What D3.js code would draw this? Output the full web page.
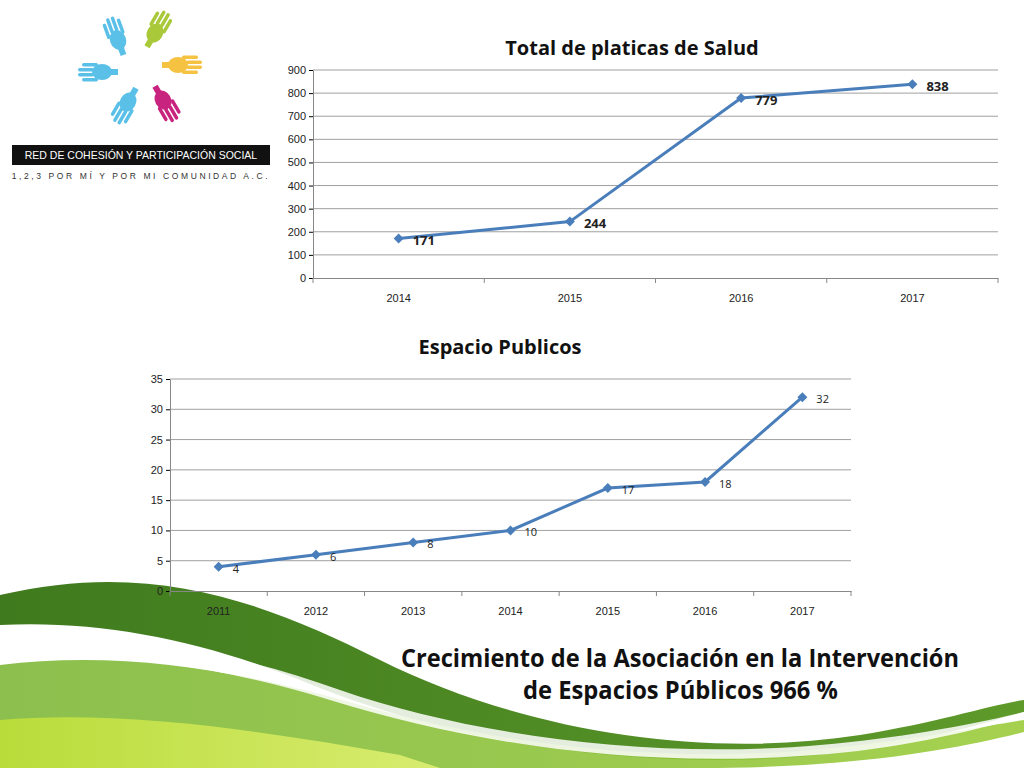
<!DOCTYPE html>
<html><head><meta charset="utf-8">
<script src="https://cdn.jsdelivr.net/npm/d3@7"></script>
<style>
body{margin:0;background:#fff;}
svg{display:block;font-family:"Open Sans",sans-serif;}
</style></head>
<body><svg id="c" width="1024" height="768"></svg>
<script>
const saludYears = ["2014", "2015", "2016", "2017"];
const saludValues = [171, 244, 779, 838];
const saludTicks = [0, 100, 200, 300, 400, 500, 600, 700, 800, 900];
const espYears = ["2011", "2012", "2013", "2014", "2015", "2016", "2017"];
const espValues = [4, 6, 8, 10, 17, 18, 32];
const espTicks = [0, 5, 10, 15, 20, 25, 30, 35];

const svg = d3.select("#c");
const blue = "#4a7ebb";

// green background waves
const defs = svg.append("defs");
function grad(id, c1, c2) {
  const g = defs.append("linearGradient").attr("id", id).attr("x1", 0).attr("x2", 1);
  g.append("stop").attr("offset", 0).attr("stop-color", c1);
  g.append("stop").attr("offset", 1).attr("stop-color", c2);
}
grad("g1", "#3f7a1e", "#5e9a2a");
grad("g2", "#7fb83a", "#9ccc3c");
grad("g3", "#b9dc3a", "#d8ec70");
const waves = svg.append("g");
waves.append("path").attr("fill", "url(#g1)")
  .attr("d", "M0,595 C150,560 260,600 380,660 C520,730 700,760 860,735 C940,722 990,705 1024,700 L1024,712 C960,730 860,760 720,760 C560,760 420,730 300,680 C200,640 100,620 0,625 Z");
waves.append("path").attr("fill", "url(#g2)")
  .attr("d", "M0,665 C120,650 240,670 360,705 C500,745 680,768 860,745 C940,735 990,725 1024,720 L1024,732 C960,748 860,768 700,768 L0,768 Z").attr("opacity", 0.9);
waves.append("path").attr("fill", "url(#g3)")
  .attr("d", "M0,720 C120,710 260,730 400,755 L440,768 L0,768 Z");
waves.append("path").attr("fill", "#fff").attr("opacity", 0.85)
  .attr("d", "M0,640 C110,630 230,650 340,690 C470,735 650,760 820,745 C900,738 970,725 1024,712 L1024,716 C960,735 880,752 800,756 C620,768 460,740 330,700 C220,666 110,650 0,660 Z");

// logo
const logo = svg.append("g");
const hands = [["#5bc0e8", 118, 40, -20], ["#a9c93a", 155, 33, 30], ["#f5c242", 178, 65, 90], ["#c8237e", 163, 100, 150], ["#5bc0e8", 128, 102, 210], ["#5bc0e8", 102, 72, 270]];
hands.forEach(h => {
  const g = logo.append("g").attr("transform", `translate(${h[1]},${h[2]}) rotate(${h[3]})`);
  g.append("ellipse").attr("rx", 8).attr("ry", 10).attr("fill", h[0]);
  [-8, -3, 2, 7].forEach((dx, i) => g.append("rect").attr("x", dx - 1.5).attr("y", -24 + (i === 0 || i === 3 ? 4 : 0)).attr("width", 3.5).attr("height", 16).attr("rx", 1.7).attr("fill", h[0]));
  g.append("rect").attr("x", -3).attr("y", 6).attr("width", 6).attr("height", 10).attr("fill", h[0]);
});
logo.append("rect").attr("x", 12).attr("y", 145).attr("width", 258).attr("height", 20).attr("fill", "#111");
logo.append("text").attr("x", 141).attr("y", 159).attr("text-anchor", "middle").attr("fill", "#fff")
  .style("font-family", "Liberation Sans").style("font-size", "10.5px").text("RED DE COHESIÓN Y PARTICIPACIÓN SOCIAL");
logo.append("text").attr("x", 141).attr("y", 179).attr("text-anchor", "middle").attr("fill", "#333")
  .style("font-family", "Liberation Sans").style("font-size", "8.5px").style("letter-spacing", "2.6px").text("1,2,3 POR MÍ Y POR MI COMUNIDAD A.C.");

function lineChart(o) {
  const x = d3.scaleBand().domain(o.cats).range([o.x0, o.x1]);
  const y = d3.scaleLinear().domain([0, o.ticks[o.ticks.length - 1]]).range([o.y1, o.y0]);
  const g = svg.append("g");
  g.selectAll(".grid").data(o.ticks.slice(1)).enter().append("line")
    .attr("x1", o.x0).attr("x2", o.x1).attr("y1", d => y(d)).attr("y2", d => y(d))
    .attr("stroke", "#888").attr("stroke-width", 0.8);
  const ya = g.append("g").attr("transform", `translate(${o.x0},0)`)
    .call(d3.axisLeft(y).tickValues(o.ticks).tickSize(4).tickSizeOuter(0));
  ya.selectAll("text").style("font-size", "11px").attr("fill", "#222");
  const xa = g.append("g").attr("transform", `translate(0,${o.y1})`)
    .call(d3.axisBottom(x).tickSize(0).tickSizeOuter(0));
  xa.selectAll("text").attr("dy", "1.9em").style("font-size", "11px").attr("fill", "#222");
  xa.selectAll(".sep").data(o.cats.concat(["_end"])).enter().append("line")
    .attr("x1", (d, i) => o.x0 + i * x.step()).attr("x2", (d, i) => o.x0 + i * x.step())
    .attr("y1", 0).attr("y2", 5).attr("stroke", "#888");
  g.selectAll(".domain").attr("stroke", "#888");
  const cx = d => x(d) + x.bandwidth() / 2;
  const data = o.cats.map((c, i) => ({ c, v: o.vals[i] }));
  g.append("path").datum(data).attr("fill", "none").attr("stroke", blue).attr("stroke-width", 3)
    .attr("d", d3.line().x(d => cx(d.c)).y(d => y(d.v)));
  g.selectAll(".pt").data(data).enter().append("path")
    .attr("d", d3.symbol(d3.symbolSquare, 50)).attr("fill", blue)
    .attr("transform", d => `translate(${cx(d.c)},${y(d.v)}) rotate(45)`);
  g.selectAll(".lbl").data(data).enter().append("text")
    .attr("x", d => cx(d.c) + 14).attr("y", d => y(d.v) + 2).attr("dy", "0.35em")
    .style("font-size", o.lblSize).style("font-weight", o.lblWeight)
    .attr("fill", "#222").text(d => d.v);
  svg.append("text").attr("x", o.tx).attr("y", o.ty).attr("text-anchor", "middle")
    .style("font-size", "20px").style("font-weight", "bold").attr("fill", "#111").text(o.title);
}

lineChart({ cats: saludYears, vals: saludValues, ticks: saludTicks, x0: 313, x1: 998, y0: 70, y1: 278,
  lblSize: "13px", lblWeight: "bold", title: "Total de platicas de Salud", tx: 632, ty: 55 });
lineChart({ cats: espYears, vals: espValues, ticks: espTicks, x0: 170, x1: 851, y0: 379, y1: 591,
  lblSize: "11px", lblWeight: "normal", title: "Espacio Publicos", tx: 500, ty: 354 });

svg.append("text").attr("x", 401).attr("y", 667)
  .attr("textLength", 558).attr("lengthAdjust", "spacingAndGlyphs")
  .style("font-size", "25px").style("font-weight", "bold").attr("fill", "#111")
  .text("Crecimiento de la Asociación en la Intervención");
svg.append("text").attr("x", 523).attr("y", 699)
  .attr("textLength", 315).attr("lengthAdjust", "spacingAndGlyphs")
  .style("font-size", "25px").style("font-weight", "bold").attr("fill", "#111")
  .text("de Espacios Públicos 966 %");
</script></body></html>
